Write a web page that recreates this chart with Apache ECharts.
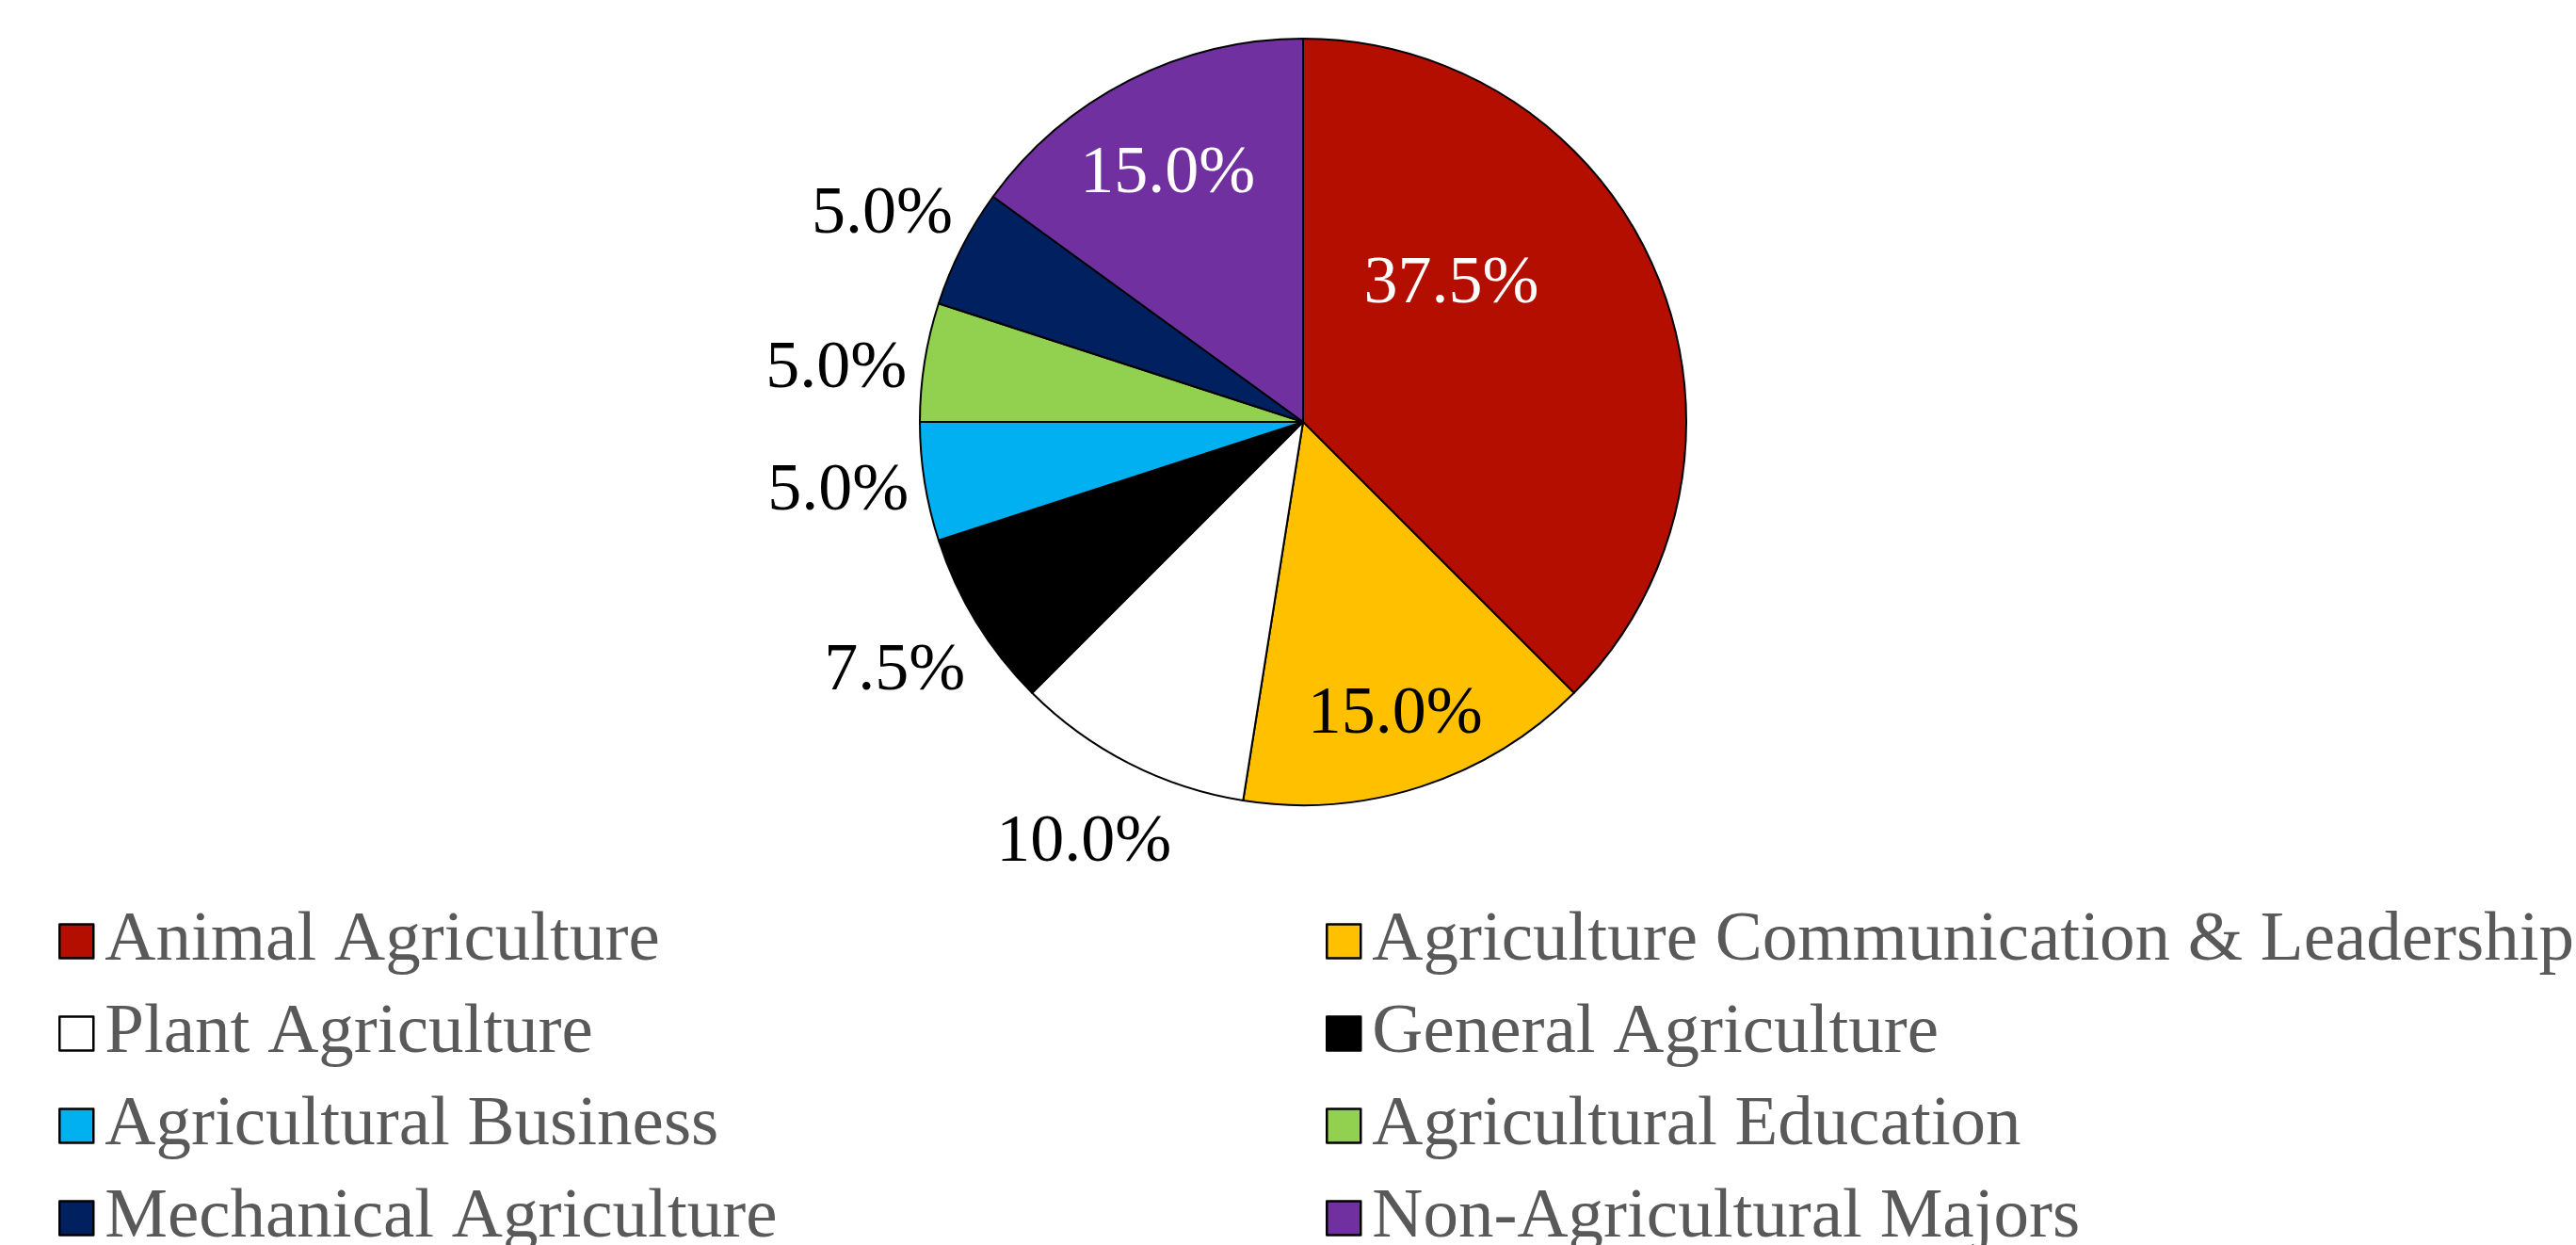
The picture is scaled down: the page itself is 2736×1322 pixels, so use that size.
<!DOCTYPE html>
<html>
<head>
<meta charset="utf-8">
<script src="https://cdn.jsdelivr.net/npm/echarts@6/dist/echarts.min.js"></script>
<style>
html,body{margin:0;padding:0;background:#fff;}
#chart{width:2736px;height:1322px;}
</style>
</head>
<body>
<div id="chart"></div>
<script>
const categories = [
  'Animal Agriculture',
  'Agriculture Communication & Leadership',
  'Plant Agriculture',
  'General Agriculture',
  'Agricultural Business',
  'Agricultural Education',
  'Mechanical Agriculture',
  'Non-Agricultural Majors'
];
const values = [37.5, 15.0, 10.0, 7.5, 5.0, 5.0, 5.0, 15.0];
const colors = ['#B40E00', '#FFC000', '#FFFFFF', '#000000', '#00B0F0', '#92D050', '#002060', '#7030A0'];
const insideLabelItems = [0, 1, 7];
const insideLabelColors = {0: '#FFFFFF', 1: '#000000', 7: '#FFFFFF'};

const FONT = "'Liberation Serif', 'Times New Roman', serif";
const CENTER = [1384, 448];
const R = 407;
// small label nudges (styling) to mimic the original label placement
const labelNudge = {0: [-135, -25], 1: [0, 10], 2: [-4, -2], 3: [-4, 2], 4: [4, -5], 5: [2, 23], 6: [2, 9], 7: [0, 19]};

function fmt(p) { return p.value.toFixed(1) + '%'; }

const mainData = categories.map((n, i) => ({
  name: n, value: values[i],
  itemStyle: { color: colors[i] }
}));

const outerLabelData = categories.map((n, i) => ({
  name: n, value: values[i],
  itemStyle: { color: 'rgba(0,0,0,0)' },
  label: { show: insideLabelItems.indexOf(i) < 0, offset: labelNudge[i] || [0, 0] }
}));

const innerLabelData = categories.map((n, i) => {
  const inside = insideLabelItems.indexOf(i) >= 0;
  const lab = { show: inside, color: insideLabelColors[i] || '#000', offset: labelNudge[i] || [0, 0] };
  return { name: n, value: values[i], itemStyle: { color: 'rgba(0,0,0,0)' }, label: lab };
});

const chart = echarts.init(document.getElementById('chart'));
const legendCommon = {
  orient: 'vertical',
  icon: 'rect',
  itemWidth: 36,
  itemHeight: 36,
  itemGap: 23,
  height: 600,
  selectedMode: false,
  itemStyle: { borderColor: '#000', borderWidth: 2.5 },
  textStyle: { fontFamily: FONT, fontSize: 75, color: '#595959', padding: [0, 0, 0, 7] }
};
chart.setOption({
  backgroundColor: '#ffffff',
  animation: false,
  legend: [
    Object.assign({}, legendCommon, { left: 57, top: 957, data: categories.filter((_, i) => i % 2 === 0) }),
    Object.assign({}, legendCommon, { left: 1403, top: 957, data: categories.filter((_, i) => i % 2 === 1) })
  ],
  series: [
    {
      type: 'pie',
      center: CENTER,
      radius: [0, R],
      startAngle: 90,
      clockwise: true,
      silent: true,
      label: { show: false },
      labelLine: { show: false },
      itemStyle: { borderColor: '#000', borderWidth: 2 },
      emphasis: { disabled: true },
      data: mainData
    },
    {
      type: 'pie',
      center: CENTER,
      radius: [R + 2, R + 186],
      startAngle: 90,
      clockwise: true,
      silent: true,
      label: { position: 'inside', rotate: 0, formatter: fmt, fontFamily: FONT, fontSize: 72, color: '#000' },
      labelLine: { show: false },
      emphasis: { disabled: true },
      data: outerLabelData
    },
    {
      type: 'pie',
      center: CENTER,
      radius: [220, R],
      startAngle: 90,
      clockwise: true,
      silent: true,
      label: { position: 'inside', rotate: 0, formatter: fmt, fontFamily: FONT, fontSize: 72 },
      labelLine: { show: false },
      emphasis: { disabled: true },
      data: innerLabelData
    }
  ]
});
</script>
</body>
</html>
